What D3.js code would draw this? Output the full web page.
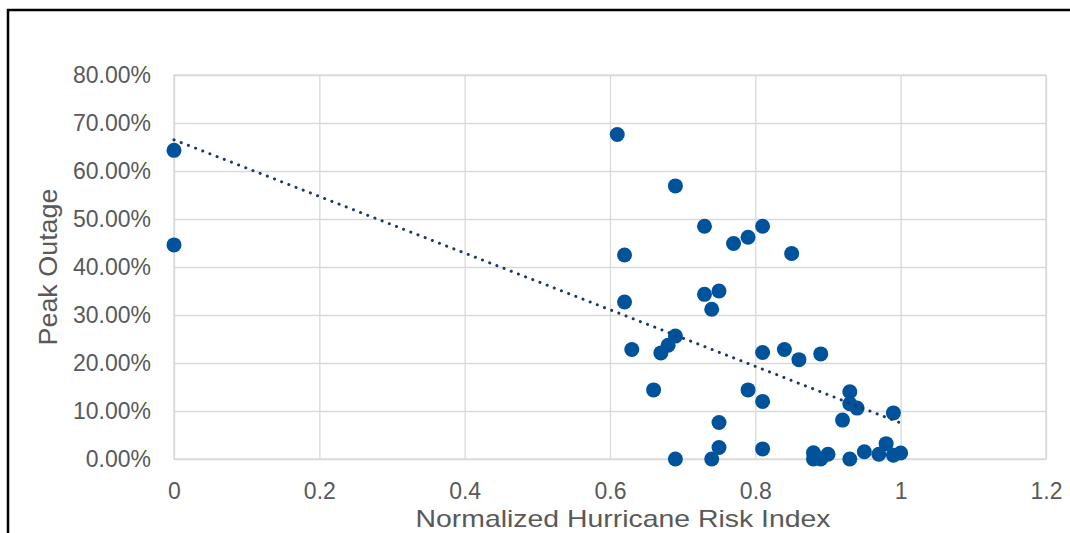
<!DOCTYPE html>
<html lang="en">
<head>
    <meta charset="UTF-8">
    <title>Peak Outage vs Hurricane Risk</title>
    <script src="https://cdnjs.cloudflare.com/ajax/libs/d3/7.8.2/d3.min.js"></script>
    <style>
        body{ margin: 0; background: #fff; }
        svg{ display: block; font-family: "Liberation Sans", Arial, sans-serif; }
    </style>
</head>
<body>
    <div class="container"></div>
    <script>
        // data
        let riskIndex = [0, 0, 0.61, 0.69, 0.73, 0.77, 0.79, 0.81, 0.85, 0.62,
                         0.62, 0.73, 0.75, 0.74, 0.69, 0.68, 0.67, 0.63, 0.66, 0.79,
                         0.81, 0.81, 0.84, 0.86, 0.89, 0.75, 0.75, 0.81, 0.69, 0.74,
                         0.93, 0.93, 0.94, 0.92, 0.99, 0.88, 0.88, 0.89, 0.90, 0.93,
                         0.95, 0.97, 0.98, 0.99, 1.00];
        let peakOutage = [0.643, 0.446, 0.676, 0.569, 0.485, 0.449, 0.462, 0.485, 0.428, 0.425,
                          0.327, 0.343, 0.350, 0.312, 0.256, 0.237, 0.221, 0.228, 0.144, 0.144,
                          0.120, 0.222, 0.228, 0.207, 0.219, 0.076, 0.024, 0.021, 0.000, 0.000,
                          0.140, 0.115, 0.106, 0.081, 0.096, 0.013, 0.000, 0.000, 0.010, 0.000,
                          0.015, 0.010, 0.032, 0.008, 0.0125];
        // linear trendline ends
        let trendX = [0, 1];
        let trendY = [0.665, 0.075];
        let xTicks = [0, 0.2, 0.4, 0.6, 0.8, 1, 1.2];
        let yTicks = [0, 0.1, 0.2, 0.3, 0.4, 0.5, 0.6, 0.7, 0.8];

        let width = 1070;
        let height = 533;
        let plot = {left: 174, right: 1046, top: 75, bottom: 459};

        let svg = d3.select('.container').append('svg')
                    .attr('width', width).attr('height', height);

        // chart frame (cut off at right and bottom)
        svg.append('rect')
           .attr('x', 8).attr('y', 10)
           .attr('width', width + 20).attr('height', height + 20)
           .attr('fill', 'none').attr('stroke', '#000').attr('stroke-width', 2.5);

        let xScale = d3.scaleLinear().domain([0, 1.2]).range([plot.left, plot.right]);
        let yScale = d3.scaleLinear().domain([0, 0.8]).range([plot.bottom, plot.top]);

        // gridlines
        svg.append('g')
           .attr('transform', `translate(0,${plot.bottom})`)
           .call(d3.axisBottom(xScale).tickValues(xTicks).tickSize(-(plot.bottom - plot.top)).tickFormat(''))
           .call(g => g.select('.domain').remove())
           .call(g => g.selectAll('line').attr('stroke', '#d9d9d9').attr('stroke-width', 1.3));

        svg.append('g')
           .attr('transform', `translate(${plot.left},0)`)
           .call(d3.axisLeft(yScale).tickValues(yTicks).tickSize(-(plot.right - plot.left)).tickFormat(''))
           .call(g => g.select('.domain').remove())
           .call(g => g.selectAll('line').attr('stroke', '#d9d9d9').attr('stroke-width', 1.3));

        svg.append('rect')
           .attr('x', plot.left).attr('y', plot.top)
           .attr('width', plot.right - plot.left).attr('height', plot.bottom - plot.top)
           .attr('fill', 'none').attr('stroke', '#d9d9d9').attr('stroke-width', 1.3);

        // tick labels
        let xAxis = svg.append('g')
           .attr('transform', `translate(0,${plot.bottom})`)
           .call(d3.axisBottom(xScale).tickValues(xTicks).tickSize(0).tickPadding(24).tickFormat(d3.format('')));
        xAxis.select('.domain').remove();
        xAxis.selectAll('text').attr('fill', '#595959').style('font-size', '23px');

        let yAxis = svg.append('g')
           .attr('transform', `translate(${plot.left},0)`)
           .call(d3.axisLeft(yScale).tickValues(yTicks).tickSize(0).tickPadding(23).tickFormat(d3.format('.2%')));
        yAxis.select('.domain').remove();
        yAxis.selectAll('text').attr('fill', '#595959').style('font-size', '23px');

        // axis titles
        svg.append('text')
           .attr('x', 623).attr('y', 527)
           .attr('text-anchor', 'middle').attr('fill', '#595959')
           .style('font-size', '24px')
           .attr('textLength', 415).attr('lengthAdjust', 'spacingAndGlyphs')
           .text('Normalized Hurricane Risk Index');

        svg.append('text')
           .attr('transform', `translate(57,${(plot.top + plot.bottom) / 2}) rotate(-90)`)
           .attr('text-anchor', 'middle').attr('fill', '#595959')
           .style('font-size', '25px')
           .attr('textLength', 157).attr('lengthAdjust', 'spacingAndGlyphs')
           .text('Peak Outage');

        // points
        let points = riskIndex.map((x, i) => ({x: x, y: peakOutage[i]}));
        svg.append('g').selectAll('circle')
           .data(points)
           .enter()
           .append('circle')
           .attr('cx', d => xScale(d.x))
           .attr('cy', d => yScale(d.y))
           .attr('r', 7.5)
           .attr('fill', '#00539b');

        // dotted trendline
        let trend = trendX.map((x, i) => [x, trendY[i]]);
        svg.append('path')
           .datum(trend)
           .attr('d', d3.line().x(d => xScale(d[0])).y(d => yScale(d[1])))
           .attr('fill', 'none')
           .attr('stroke', '#1a3a6b')
           .attr('stroke-width', 3)
           .attr('stroke-linecap', 'round')
           .attr('stroke-dasharray', '0.1 7.6');
    </script>
</body>
</html>
